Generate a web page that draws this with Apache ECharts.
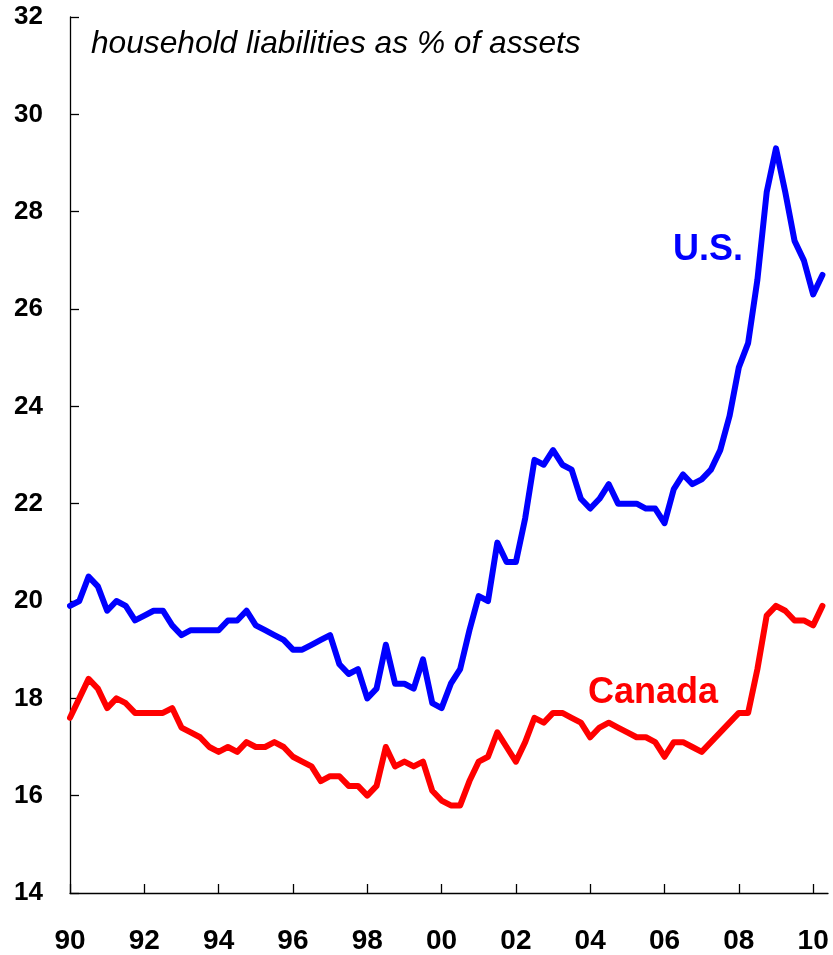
<!DOCTYPE html>
<html>
<head>
<meta charset="utf-8">
<script src="https://cdn.jsdelivr.net/npm/echarts@6/dist/echarts.min.js"></script>
<style>
  html, body { margin: 0; padding: 0; background: #fff; }
  #chart { width: 833px; height: 955px; }
</style>
</head>
<body>
<div id="chart"></div>
<script>
// quarterly, 1990Q1 .. 2010Q2
var startYear = 1990;
var usValues = [
    19.9, 20.0, 20.5, 20.3,
    19.8, 20.0, 19.9, 19.6,
    19.7, 19.8, 19.8, 19.5,
    19.3, 19.4, 19.4, 19.4,
    19.4, 19.6, 19.6, 19.8,
    19.5, 19.4, 19.3, 19.2,
    19.0, 19.0, 19.1, 19.2,
    19.3, 18.7, 18.5, 18.6,
    18.0, 18.2, 19.1, 18.3,
    18.3, 18.2, 18.8, 17.9,
    17.8, 18.3, 18.6, 19.4,
    20.1, 20.0, 21.2, 20.8,
    20.8, 21.7, 22.9, 22.8,
    23.1, 22.8, 22.7, 22.1,
    21.9, 22.1, 22.4, 22.0,
    22.0, 22.0, 21.9, 21.9,
    21.6, 22.3, 22.6, 22.4,
    22.5, 22.7, 23.1, 23.8,
    24.8, 25.3, 26.6, 28.4,
    29.3, 28.4, 27.4, 27.0,
    26.3, 26.7
];
var canadaValues = [
    17.6, 18.0, 18.4, 18.2,
    17.8, 18.0, 17.9, 17.7,
    17.7, 17.7, 17.7, 17.8,
    17.4, 17.3, 17.2, 17.0,
    16.9, 17.0, 16.9, 17.1,
    17.0, 17.0, 17.1, 17.0,
    16.8, 16.7, 16.6, 16.3,
    16.4, 16.4, 16.2, 16.2,
    16.0, 16.2, 17.0, 16.6,
    16.7, 16.6, 16.7, 16.1,
    15.9, 15.8, 15.8, 16.3,
    16.7, 16.8, 17.3, 17.0,
    16.7, 17.1, 17.6, 17.5,
    17.7, 17.7, 17.6, 17.5,
    17.2, 17.4, 17.5, 17.4,
    17.3, 17.2, 17.2, 17.1,
    16.8, 17.1, 17.1, 17.0,
    16.9, 17.1, 17.3, 17.5,
    17.7, 17.7, 18.6, 19.7,
    19.9, 19.8, 19.6, 19.6,
    19.5, 19.9
];
var yearTicks = [1990, 1992, 1994, 1996, 1998, 2000, 2002, 2004, 2006, 2008, 2010];

function withDates(values) {
    var out = [];
    for (var i = 0; i < values.length; i++) {
        out.push([startYear + i / 4, values[i]]);
    }
    return out;
}

var chart = echarts.init(document.getElementById('chart'));
var font = '"Liberation Sans", Arial, sans-serif';

var option = {
    animation: false,
    grid: {
        left: 70,
        right: 5,
        top: 17,
        bottom: 61
    },
    xAxis: {
        type: 'value',
        min: 1990,
        max: 2010.4,
        interval: 2,
        splitLine: { show: false },
        axisLine: { show: true, lineStyle: { color: '#000', width: 1.3 } },
        axisTick: {
            show: true,
            inside: true,
            length: 9,
            customValues: yearTicks,
            lineStyle: { color: '#000', width: 1.3 }
        },
        axisLabel: {
            customValues: yearTicks,
            margin: 34,
            color: '#000',
            fontFamily: font,
            fontWeight: 'bold',
            fontSize: 28,
            formatter: function (v) {
                var s = String(Math.round(v) % 100);
                return s.length < 2 ? '0' + s : s;
            }
        }
    },
    yAxis: {
        type: 'value',
        min: 14,
        max: 32,
        interval: 2,
        splitLine: { show: false },
        axisLine: { show: true, lineStyle: { color: '#000', width: 1.3 } },
        axisTick: { show: true, inside: true, length: 9, lineStyle: { color: '#000', width: 1.3 } },
        axisLabel: {
            margin: 27,
            color: '#000',
            fontFamily: font,
            fontWeight: 'bold',
            fontSize: 26
        }
    },
    graphic: [
        {
            type: 'text',
            left: 91,
            top: 28,
            style: {
                text: 'household liabilities as % of assets',
                fill: '#000',
                font: 'italic 31.7px ' + font
            }
        },
        {
            type: 'text',
            left: 673,
            top: 232,
            style: {
                text: 'U.S.',
                fill: '#0000ff',
                font: 'bold 36px ' + font
            }
        },
        {
            type: 'text',
            left: 588,
            top: 675,
            style: {
                text: 'Canada',
                fill: '#ff0000',
                font: 'bold 36px ' + font
            }
        }
    ],
    series: [
        {
            name: 'U.S.',
            type: 'line',
            data: withDates(usValues),
            showSymbol: false,
            lineStyle: { color: '#0000ff', width: 6, cap: 'round', join: 'round' },
            itemStyle: { color: '#0000ff' }
        },
        {
            name: 'Canada',
            type: 'line',
            data: withDates(canadaValues),
            showSymbol: false,
            lineStyle: { color: '#ff0000', width: 6, cap: 'round', join: 'round' },
            itemStyle: { color: '#ff0000' }
        }
    ]
};

chart.setOption(option);
</script>
</body>
</html>
